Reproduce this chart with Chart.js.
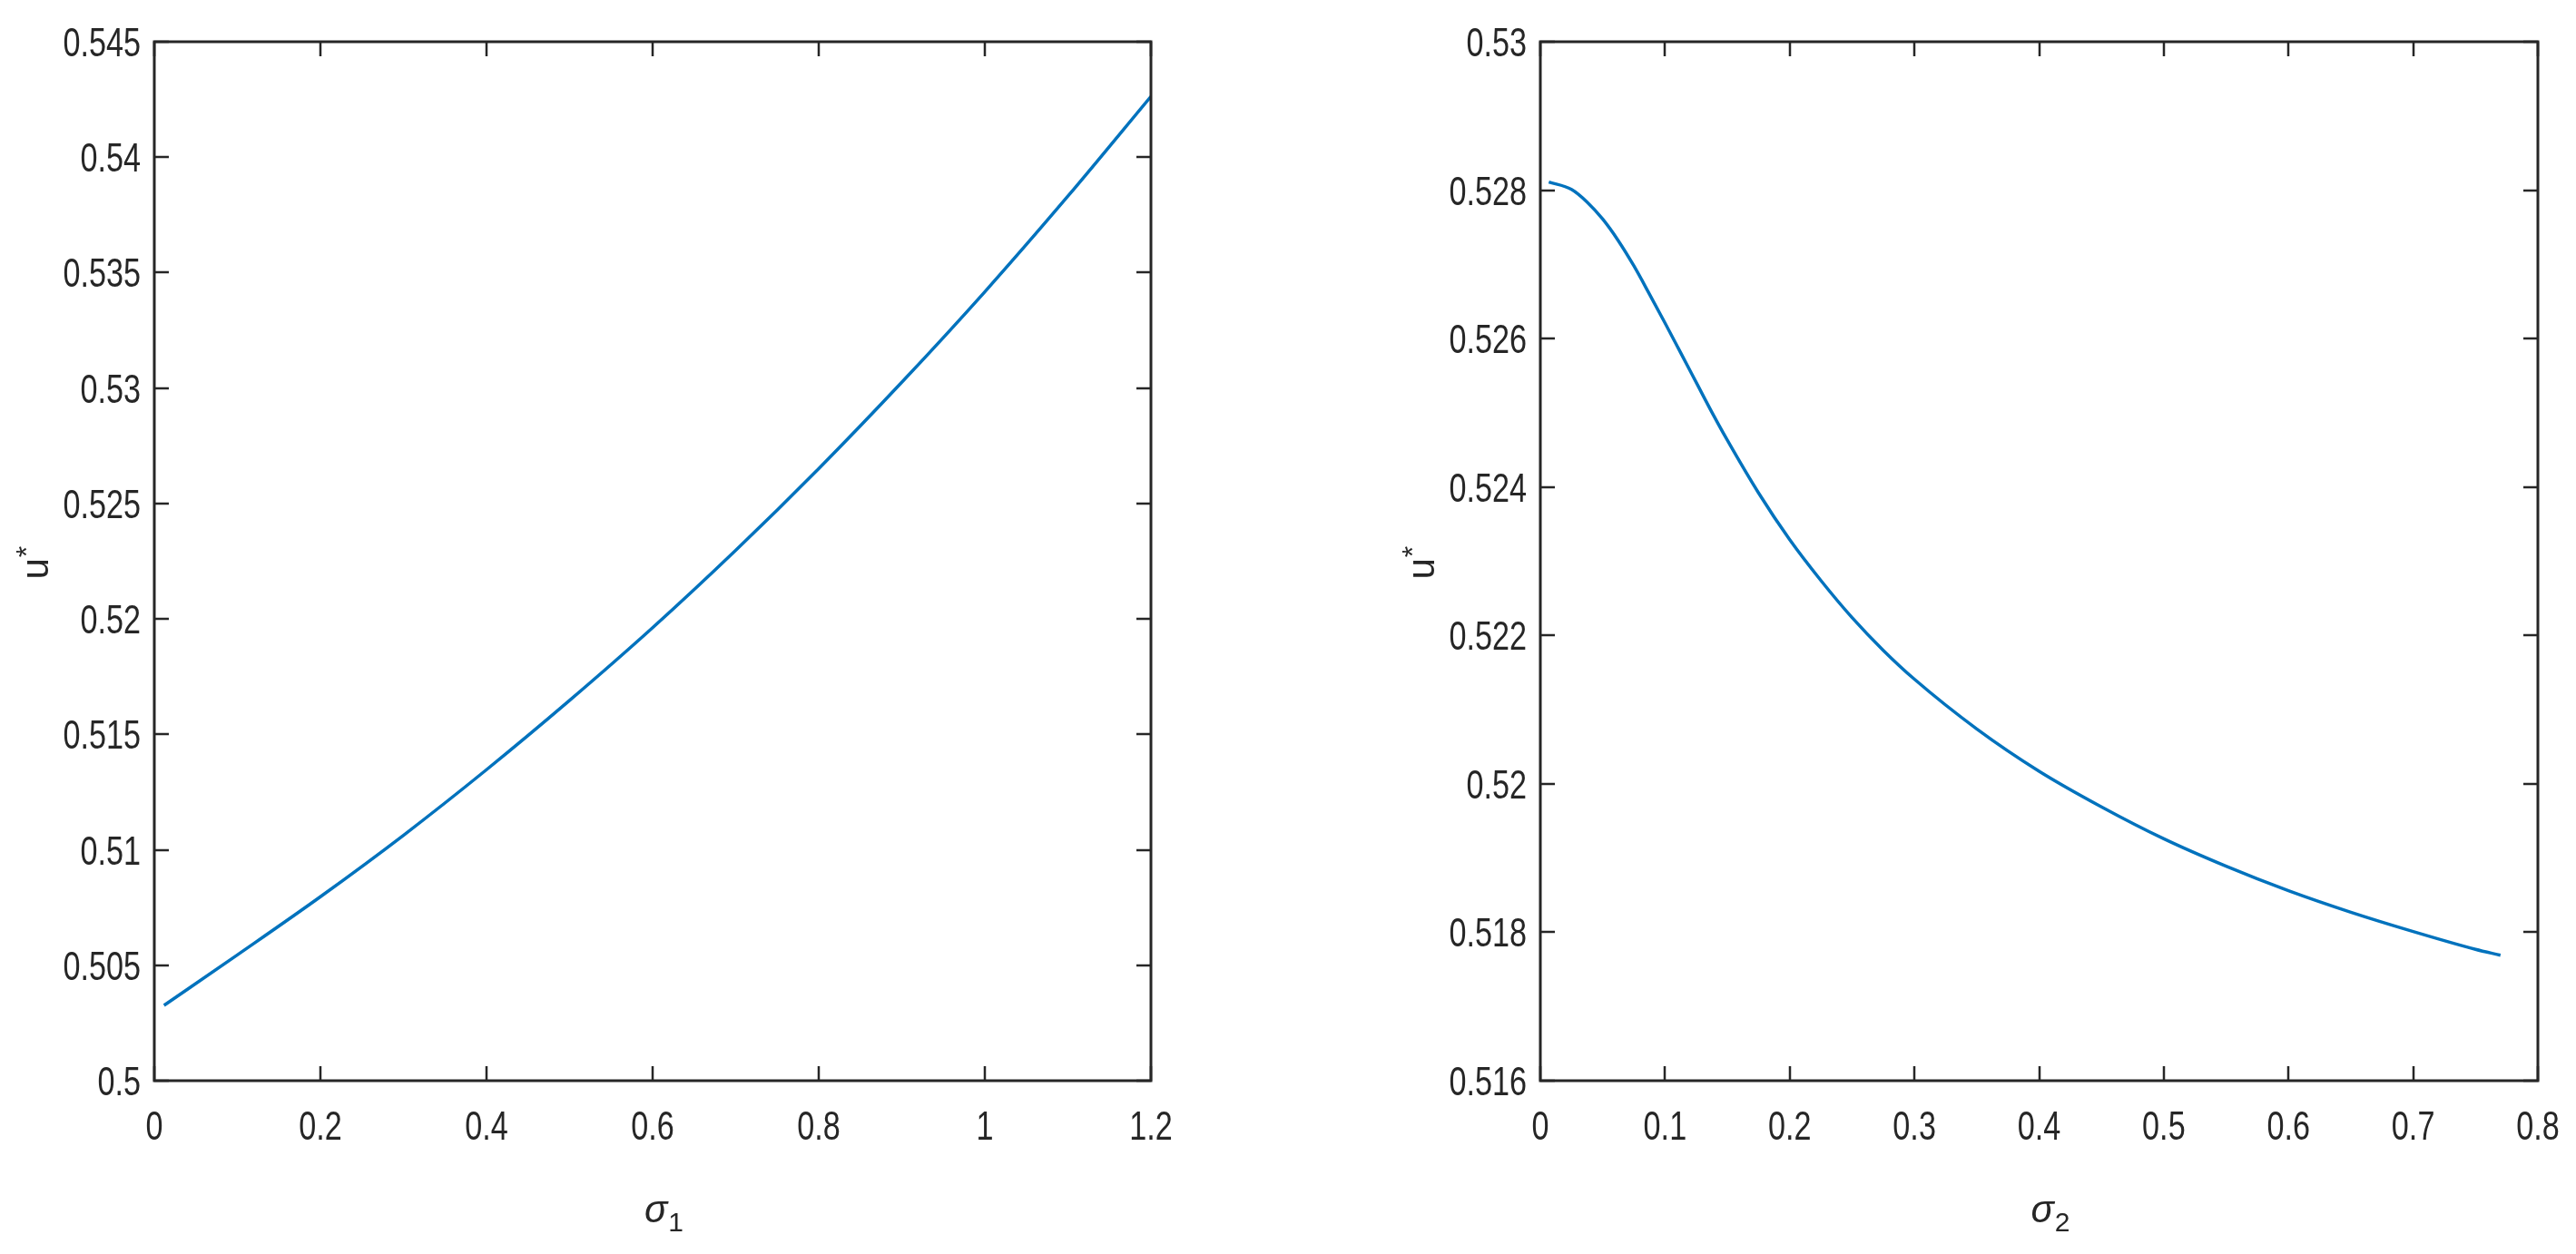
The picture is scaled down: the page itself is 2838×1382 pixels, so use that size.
<!DOCTYPE html>
<html>
<head>
<meta charset="utf-8">
<script src="https://cdn.jsdelivr.net/npm/chart.js@4.4.1/dist/chart.umd.min.js"></script>
<style>
  html, body { margin: 0; padding: 0; background: #ffffff; }
  body { width: 2838px; height: 1382px; position: relative; overflow: hidden; }
  canvas { position: absolute; top: 0; }
</style>
</head>
<body>
<canvas id="c1" width="1300" height="1382" style="left:0px;width:1300px;height:1382px"></canvas>
<canvas id="c2" width="1418" height="1382" style="left:1420px;width:1418px;height:1382px"></canvas>
<script>
// ---- Left panel data: u* versus sigma_1 ----
const sigma1 = [0.0117, 0.1, 0.2, 0.3, 0.4, 0.5, 0.6, 0.7, 0.8, 0.9, 1.0, 1.1, 1.2];
const u1     = [0.50326, 0.50545, 0.50797, 0.51063, 0.51347, 0.51647, 0.51962, 0.52297, 0.52651, 0.53025, 0.53417, 0.53831, 0.54263];

// ---- Right panel data: u* versus sigma_2 ----
const sigma2 = [0.0068, 0.025, 0.0375, 0.05, 0.0625, 0.075, 0.0875, 0.1, 0.1125, 0.125, 0.1375, 0.15, 0.175, 0.2, 0.225, 0.25, 0.275, 0.3, 0.35, 0.4, 0.45, 0.5, 0.55, 0.6, 0.65, 0.7, 0.75, 0.77];
const u2     = [0.52811, 0.52801, 0.52784, 0.52761, 0.52732, 0.52698, 0.52660, 0.52621, 0.52581, 0.52541, 0.52501, 0.52463, 0.52392, 0.52329, 0.52274, 0.52224, 0.52180, 0.52141, 0.52074, 0.52017, 0.51969, 0.51926, 0.51889, 0.51856, 0.51827, 0.51801, 0.51777, 0.51769];

// ---- Tick values and labels ----
const xTicks1  = [0, 0.2, 0.4, 0.6, 0.8, 1.0, 1.2];
const xLabels1 = ['0', '0.2', '0.4', '0.6', '0.8', '1', '1.2'];
const yTicks1  = [0.5, 0.505, 0.51, 0.515, 0.52, 0.525, 0.53, 0.535, 0.54, 0.545];
const yLabels1 = ['0.5', '0.505', '0.51', '0.515', '0.52', '0.525', '0.53', '0.535', '0.54', '0.545'];

const xTicks2  = [0, 0.1, 0.2, 0.3, 0.4, 0.5, 0.6, 0.7, 0.8];
const xLabels2 = ['0', '0.1', '0.2', '0.3', '0.4', '0.5', '0.6', '0.7', '0.8'];
const yTicks2  = [0.516, 0.518, 0.52, 0.522, 0.524, 0.526, 0.528, 0.53];
const yLabels2 = ['0.516', '0.518', '0.52', '0.522', '0.524', '0.526', '0.528', '0.53'];

// ---- Axis titles ----
const xTitle1 = { base: 'σ', sub: '1' };
const xTitle2 = { base: 'σ', sub: '2' };
const yTitle  = { base: 'u', sup: '*' };

const FONT = "'Liberation Sans', Arial, Helvetica, sans-serif";
const AX = '#262626';
const NARROW = 0.76;   // horizontal compression of the tick-label font

const framePlugin = {
  id: 'frame',
  afterDraw(chart) {
    const ctx = chart.ctx;
    const { left, right, top, bottom } = chart.chartArea;
    const xs = chart.scales.x, ys = chart.scales.y;
    const opt = chart.options.plugins.frame;
    const TL = 16;
    ctx.save();
    ctx.strokeStyle = AX;
    ctx.lineWidth = 2.5;
    ctx.beginPath();
    xs.ticks.forEach(t => {
      const px = Math.round(xs.getPixelForValue(t.value));
      ctx.moveTo(px, bottom); ctx.lineTo(px, bottom - TL);
      ctx.moveTo(px, top); ctx.lineTo(px, top + TL);
    });
    ys.ticks.forEach(t => {
      const py = Math.round(ys.getPixelForValue(t.value));
      ctx.moveTo(left, py); ctx.lineTo(left + TL, py);
      ctx.moveTo(right, py); ctx.lineTo(right - TL, py);
    });
    ctx.stroke();
    ctx.lineWidth = 3;
    ctx.strokeRect(left, top, right - left, bottom - top);

    // Tick labels (condensed Helvetica-like face)
    ctx.fillStyle = AX;
    ctx.font = '45px ' + FONT;
    ctx.textBaseline = 'alphabetic';
    xs.ticks.forEach((t, i) => {
      const px = xs.getPixelForValue(t.value);
      ctx.save();
      ctx.translate(px, bottom + 65);
      ctx.scale(NARROW, 1);
      ctx.textAlign = 'center';
      ctx.fillText(opt.xLabels[i], 0, 0);
      ctx.restore();
    });
    ys.ticks.forEach((t, i) => {
      const py = ys.getPixelForValue(t.value);
      ctx.save();
      ctx.translate(left - 15, py + 16);
      ctx.scale(NARROW, 1);
      ctx.textAlign = 'right';
      ctx.fillText(opt.yLabels[i], 0, 0);
      ctx.restore();
    });

    // x title: sigma with subscript
    const cx = (left + right) / 2 + 12;
    ctx.font = 'italic 42px ' + FONT;
    const wb = ctx.measureText(opt.xTitle.base).width;
    ctx.font = '30px ' + FONT;
    const ws = ctx.measureText(opt.xTitle.sub).width;
    const x0 = cx - (wb + ws) / 2;
    const by = 1347;
    ctx.textAlign = 'left';
    ctx.font = 'italic 42px ' + FONT;
    ctx.fillText(opt.xTitle.base, x0, by);
    ctx.font = '30px ' + FONT;
    ctx.fillText(opt.xTitle.sub, x0 + wb + 1, by + 10);

    // y title: u with superscript *, rotated
    ctx.save();
    ctx.translate(left - 117, (top + bottom) / 2 + 20);
    ctx.rotate(-Math.PI / 2);
    ctx.font = '42px ' + FONT;
    ctx.fillText(yTitle.base, 0, 0);
    const wu = ctx.measureText(yTitle.base).width;
    ctx.font = '32px ' + FONT;
    ctx.fillText(yTitle.sup, wu + 1, -13);
    ctx.restore();
    ctx.restore();
  }
};

function makeChart(id, xs, ys, xTicks, xLabels, yTicks, yLabels, xmin, xmax, ymin, ymax, yAxisWidth, padRight, xTitle) {
  return new Chart(document.getElementById(id), {
    type: 'line',
    data: {
      datasets: [{
        data: xs.map((x, i) => ({ x: x, y: ys[i] })),
        borderColor: '#0072BD',
        borderWidth: 3.5,
        pointRadius: 0,
        fill: false,
        cubicInterpolationMode: 'monotone'
      }]
    },
    options: {
      responsive: false,
      animation: false,
      layout: { padding: { top: 46, right: padRight, left: 0, bottom: 0 } },
      plugins: {
        legend: { display: false },
        tooltip: { enabled: false },
        frame: { xTitle: xTitle, xLabels: xLabels, yLabels: yLabels }
      },
      scales: {
        x: {
          type: 'linear', min: xmin, max: xmax,
          afterBuildTicks: s => { s.ticks = xTicks.map(v => ({ value: v })); },
          afterFit: s => { s.height = 191; },
          grid: { display: false, drawTicks: false },
          border: { display: false },
          ticks: { display: false, autoSkip: false, maxRotation: 0 }
        },
        y: {
          type: 'linear', min: ymin, max: ymax,
          afterBuildTicks: s => { s.ticks = yTicks.map(v => ({ value: v })); },
          afterFit: s => { s.width = yAxisWidth; },
          grid: { display: false, drawTicks: false },
          border: { display: false },
          ticks: { display: false, autoSkip: false }
        }
      }
    },
    plugins: [framePlugin]
  });
}

makeChart('c1', sigma1, u1, xTicks1, xLabels1, yTicks1, yLabels1, 0, 1.2, 0.5, 0.545, 170, 32, xTitle1);
makeChart('c2', sigma2, u2, xTicks2, xLabels2, yTicks2, yLabels2, 0, 0.8, 0.516, 0.53, 277, 42, xTitle2);
</script>
</body>
</html>
